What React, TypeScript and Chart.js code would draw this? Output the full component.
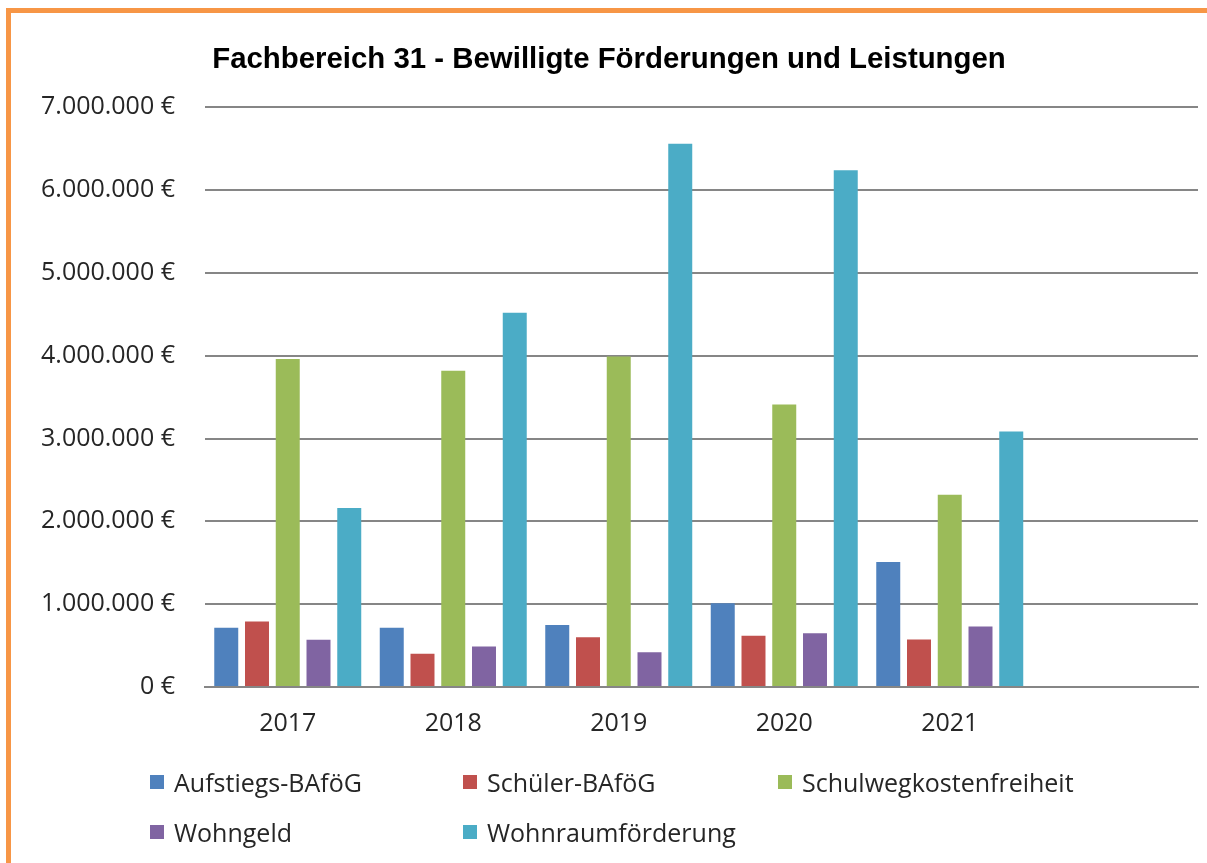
import React, { useEffect, useRef } from "react";
import { Chart, registerables } from "chart.js";

Chart.register(...registerables);

const years = ["2017", "2018", "2019", "2020", "2021", ""];
const aufstiegsBafoeg = [715000, 715000, 750000, 1010000, 1510000, null];
const schuelerBafoeg = [790000, 400000, 600000, 620000, 575000, null];
const schulwegkosten = [3960000, 3820000, 3990000, 3410000, 2320000, null];
const wohngeld = [570000, 490000, 420000, 650000, 730000, null];
const wohnraumfoerderung = [2160000, 4520000, 6560000, 6240000, 3085000, null];

const seriesNames = [
  "Aufstiegs-BAföG",
  "Schüler-BAföG",
  "Schulwegkostenfreiheit",
  "Wohngeld",
  "Wohnraumförderung",
];
const seriesColors = ["#4f81bd", "#c0504d", "#9bbb59", "#8064a2", "#4bacc6"];
const seriesData = [aufstiegsBafoeg, schuelerBafoeg, schulwegkosten, wohngeld, wohnraumfoerderung];

const titleText = "Fachbereich 31 - Bewilligte Förderungen und Leistungen";
const yMax = 7000000;
const yStep = 1000000;

const textFont = "'Open Sans', 'Noto Sans', sans-serif";

function formatEuro(v: number): string {
  const s = Math.round(v).toString().replace(/\B(?=(\d{3})+(?!\d))/g, ".");
  return s + " €";
}

const legendCols = [150, 463, 778];
const legendRows = [782, 832];

export default function App() {
  const canvasRef = useRef<HTMLCanvasElement | null>(null);

  useEffect(() => {
    if (!canvasRef.current) return;
    const chart = new Chart(canvasRef.current, {
      type: "bar",
      data: {
        labels: years,
        datasets: seriesNames.map((name, i) => ({
          label: name,
          data: seriesData[i],
          backgroundColor: seriesColors[i],
          borderWidth: 0,
          categoryPercentage: 0.929,
          barPercentage: 0.78,
        })),
      },
      options: {
        animation: false,
        responsive: false,
        maintainAspectRatio: false,
        layout: { padding: { left: 20, right: 9, top: 0, bottom: 116 } },
        plugins: {
          legend: { display: false },
          tooltip: { enabled: false },
          title: {
            display: true,
            text: titleText,
            color: "#000000",
            font: { family: "'Liberation Sans', Arial, sans-serif", size: 29.4, weight: "bold" },
            padding: { top: 42, bottom: 30 },
          },
        },
        scales: {
          x: {
            grid: { display: false, drawTicks: false },
            border: { display: true, color: "#868686", width: 2 },
            ticks: {
              color: "#262626",
              font: { family: textFont, size: 25 },
              padding: 22,
              maxRotation: 0,
              autoSkip: false,
            },
            afterFit: (scale: any) => {
              scale.height = 60;
            },
          },
          y: {
            min: 0,
            max: yMax,
            grid: { color: "#868686", lineWidth: 2, drawTicks: false },
            border: { display: false },
            ticks: {
              stepSize: yStep,
              color: "#262626",
              font: { family: textFont, size: 25 },
              padding: 30,
              callback: (v: any) => formatEuro(Number(v)),
            },
            afterFit: (scale: any) => {
              scale.width = 185;
            },
          },
        },
      },
    });
    return () => chart.destroy();
  }, []);

  return (
    <div style={{ position: "fixed", left: 0, top: 0, width: 1207, height: 863, background: "#ffffff", overflow: "hidden" }}>
      <canvas ref={canvasRef} width={1207} height={863} style={{ position: "absolute", left: 0, top: 0 }} />
      <div style={{ position: "absolute", left: 6, top: 8, width: 1201, height: 5, background: "#f79646" }} />
      <div style={{ position: "absolute", left: 6, top: 8, width: 5, height: 855, background: "#f79646" }} />
      {seriesNames.map((name, i) => (
        <div
          key={name}
          style={{
            position: "absolute",
            left: legendCols[i % 3],
            top: legendRows[Math.floor(i / 3)] - 17,
            height: 34,
            display: "flex",
            alignItems: "center",
            whiteSpace: "nowrap",
            fontFamily: textFont,
            fontSize: 25,
            color: "#262626",
          }}
        >
          <span style={{ display: "inline-block", width: 14, height: 14, background: seriesColors[i], marginRight: 10 }} />
          <span>{name}</span>
        </div>
      ))}
    </div>
  );
}
